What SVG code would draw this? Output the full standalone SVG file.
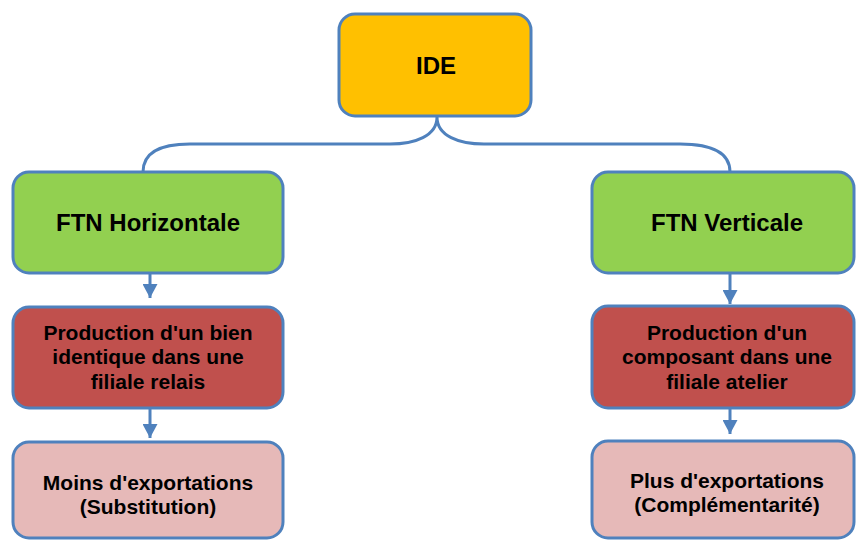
<svg xmlns="http://www.w3.org/2000/svg" width="856" height="540" viewBox="0 0 856 540">
  <style>
    .box { stroke: #4F81BD; stroke-width: 3; }
    .ide { fill: #FFC000; }
    .green { fill: #92D050; }
    .red { fill: #C0504D; }
    .pink { fill: #E6B9B8; }
    text { font-family: "Liberation Sans", Arial, sans-serif; font-weight: bold; fill: #000; text-anchor: middle; }
    .t1 { font-size: 24px; }
    .t2 { font-size: 21px; }
    .conn { fill: none; stroke: #4F81BD; stroke-width: 3; }
  </style>
  <defs>
    <marker id="arrow" markerUnits="userSpaceOnUse" viewBox="0 0 14 15" refX="14" refY="7.5" markerWidth="14" markerHeight="15" orient="auto">
      <path d="M0,0 L14,7.5 L0,15 Z" fill="#4F81BD"/>
    </marker>
  </defs>

  <g id="connectors">
    <path class="conn" d="M143,172 C143,152 160,144 190,144 L390,144 C415,144 437,136 437,117 C437,136 459,144 484,144 L680,144 C710,144 730,152 730,172"/>
    <path class="conn" d="M150,273 L150,298" marker-end="url(#arrow)"/>
    <path class="conn" d="M150,408 L150,438" marker-end="url(#arrow)"/>
    <path class="conn" d="M730,273 L730,304" marker-end="url(#arrow)"/>
    <path class="conn" d="M730,408 L730,434" marker-end="url(#arrow)"/>
  </g>

  <g id="ide">
    <rect class="box ide" x="339" y="14" width="192" height="102" rx="16"/>
    <text class="t1" x="436" y="74">IDE</text>
  </g>

  <g id="ftn-horizontale">
    <rect class="box green" x="13" y="172" width="270" height="101" rx="16"/>
    <text class="t1" x="148" y="231">FTN Horizontale</text>
  </g>

  <g id="ftn-verticale">
    <rect class="box green" x="592" y="172" width="262" height="101" rx="16"/>
    <text class="t1" x="727" y="231">FTN Verticale</text>
  </g>

  <g id="production-bien">
    <rect class="box red" x="13" y="307" width="270" height="101" rx="16"/>
    <text class="t2" x="148" y="340">Production d'un bien</text>
    <text class="t2" x="148" y="364">identique dans une</text>
    <text class="t2" x="148" y="389">filiale relais</text>
  </g>

  <g id="production-composant">
    <rect class="box red" x="592" y="306" width="262" height="102" rx="16"/>
    <text class="t2" x="727" y="340">Production d'un</text>
    <text class="t2" x="727" y="364">composant dans une</text>
    <text class="t2" x="727" y="389">filiale atelier</text>
  </g>

  <g id="moins-exportations">
    <rect class="box pink" x="13" y="442" width="270" height="96" rx="16"/>
    <text class="t2" x="148" y="490">Moins d'exportations</text>
    <text class="t2" x="148" y="514">(Substitution)</text>
  </g>

  <g id="plus-exportations">
    <rect class="box pink" x="592" y="441" width="262" height="97" rx="16"/>
    <text class="t2" x="727" y="488">Plus d'exportations</text>
    <text class="t2" x="727" y="512">(Complémentarité)</text>
  </g>
</svg>
